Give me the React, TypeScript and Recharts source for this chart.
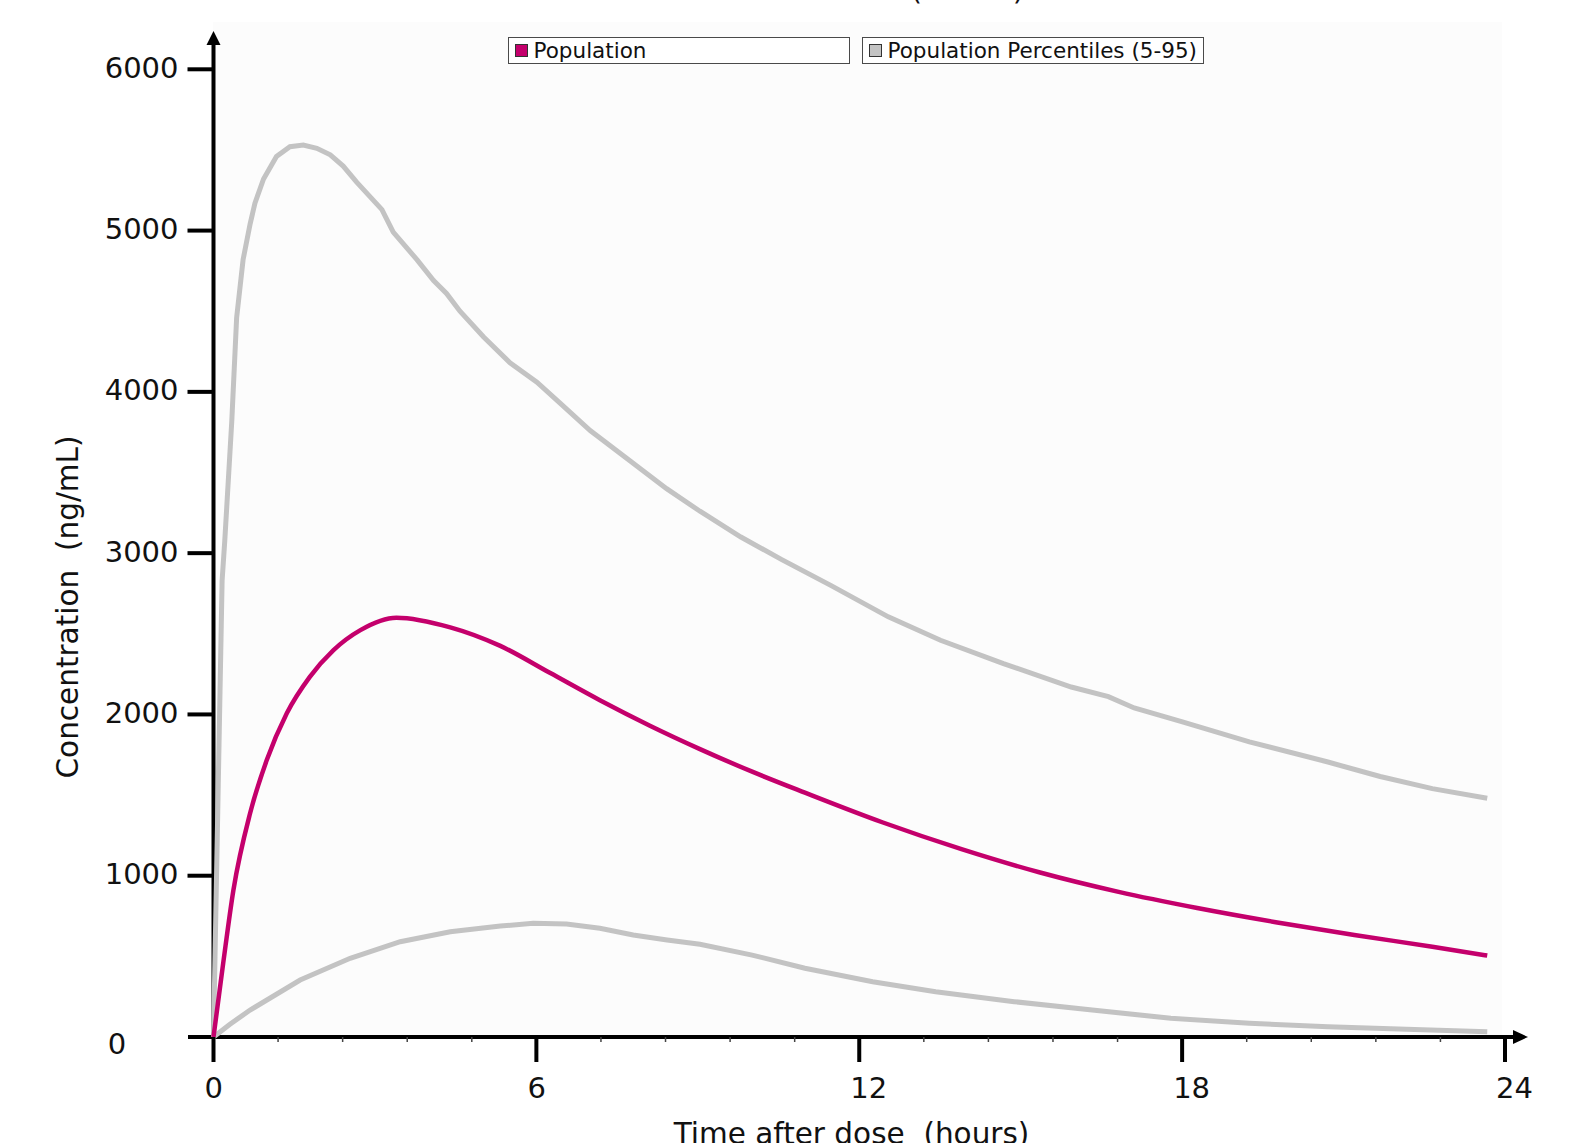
import React from 'react';
import { LineChart, Line, XAxis, YAxis, Legend } from 'recharts';

// population (typical) profile
const popTimes = [0, 0.18, 0.37, 0.68, 0.99, 1.36, 1.79, 2.23, 2.73, 3.4, 4.4, 5.33, 6.25, 7.18, 8.11, 9.04, 10.01, 10.99, 12.44, 13.9, 15.36, 16.82, 18.28, 19.74, 21.2, 22.65, 23.67];
const popValues = [0, 457, 911, 1387, 1717, 2006, 2233, 2399, 2523, 2600, 2540, 2425, 2258, 2088, 1930, 1785, 1645, 1515, 1330, 1165, 1020, 900, 800, 712, 632, 560, 505];

// 95th percentile
const upperTimes = [0, 0.16, 0.21, 0.34, 0.43, 0.55, 0.68, 0.77, 0.93, 1.17, 1.42, 1.67, 1.92, 2.17, 2.41, 2.66, 3.13, 3.34, 3.78, 4.09, 4.33, 4.58, 5.02, 5.51, 6.01, 6.44, 7.0, 7.75, 8.42, 9.04, 9.8, 10.56, 11.47, 12.54, 13.51, 14.68, 15.94, 16.63, 17.11, 17.99, 19.25, 20.71, 21.68, 22.65, 23.67];
const upperValues = [0, 2830, 3080, 3820, 4460, 4820, 5040, 5170, 5320, 5460, 5520, 5530, 5510, 5470, 5400, 5300, 5130, 4990, 4820, 4690, 4610, 4500, 4340, 4180, 4060, 3930, 3760, 3570, 3400, 3260, 3100, 2960, 2800, 2605, 2460, 2315, 2170, 2110, 2040, 1955, 1830, 1705, 1615, 1540, 1480];

// 5th percentile
const lowerTimes = [0, 0.3, 0.68, 1.61, 2.54, 3.47, 4.4, 5.33, 5.94, 6.56, 7.18, 7.8, 8.43, 9.04, 10.01, 10.99, 12.25, 13.42, 14.88, 16.33, 17.79, 19.25, 20.71, 22.17, 23.67];
const lowerValues = [0, 78, 167, 353, 488, 591, 653, 688, 705, 700, 674, 632, 601, 575, 508, 426, 343, 281, 219, 167, 116, 85, 64, 48, 33];

const xTicks = [0, 1.2, 2.4, 3.6, 4.8, 6, 7.2, 8.4, 9.6, 10.8, 12, 13.2, 14.4, 15.6, 16.8, 18, 19.2, 20.4, 21.6, 22.8, 24];
const xMajorTicks = [0, 6, 12, 18, 24];
const yTicks = [0, 1000, 2000, 3000, 4000, 5000, 6000];

const legendNames = ['Population', 'Population Percentiles (5-95)'];
const legendColors = ['#c4006c', '#c3c3c3'];

const W = 1591;
const H = 1143;
const LEFT = 213.5;
const TOP = 69.3;
const RIGHT = 1505;
const BOTTOM = 1037;
const FONT = 'DejaVu Sans';

const zip = (t: number[], v: number[]) => t.map((time, i) => ({ time, value: v[i] }));
const popData = zip(popTimes, popValues);
const upperData = zip(upperTimes, upperValues);
const lowerData = zip(lowerTimes, lowerValues);

const XTick = ({ x, y, payload }: any) => {
  if (!xMajorTicks.includes(payload.value)) {
    return <line x1={x} x2={x} y1={y} y2={y + 5} stroke="#444" strokeWidth={1.5} />;
  }
  return (
    <g>
      <line x1={x} x2={x} y1={y} y2={y + 25} stroke="#000" strokeWidth={4} />
      <text x={x - 9} y={y + 60.5} textAnchor="start" fontSize={29} fontFamily={FONT} fill="#111">
        {payload.value}
      </text>
    </g>
  );
};

const YTick = ({ x, y, payload }: any) => {
  if (payload.value === 0) {
    return (
      <text x={x - 96.5} y={y + 16.5} textAnchor="middle" fontSize={29} fontFamily={FONT} fill="#111">
        0
      </text>
    );
  }
  return (
    <g>
      <line x1={x - 26} x2={x} y1={y} y2={y} stroke="#000" strokeWidth={4} />
      <text x={x - 35} y={y + 8.5} textAnchor="end" fontSize={29} fontFamily={FONT} fill="#111">
        {payload.value}
      </text>
    </g>
  );
};

const LegendBoxes = () => (
  <div style={{ display: 'flex', gap: 12 }}>
    {legendNames.map((name, i) => (
      <div
        key={name}
        style={{
          width: 342,
          height: 27,
          boxSizing: 'border-box',
          border: '1.5px solid #4a4a4a',
          background: '#fff',
          display: 'flex',
          alignItems: 'center',
          paddingLeft: 5.5,
        }}
      >
        <span
          style={{
            display: 'inline-block',
            width: 13,
            height: 13,
            boxSizing: 'border-box',
            background: legendColors[i],
            border: '1px solid #333',
            marginRight: 6,
          }}
        />
        <span style={{ fontSize: 21.5, fontFamily: FONT, color: '#111', lineHeight: '24px' }}>{name}</span>
      </div>
    ))}
  </div>
);

export default function App() {
  return (
    <div style={{ position: 'absolute', left: 0, top: 0, width: W, height: H, background: '#fff', overflow: 'hidden' }}>
      {/* faint plot background */}
      <div style={{ position: 'absolute', left: 213, top: 22, width: 1289, height: BOTTOM - 22, background: '#fcfcfc' }} />

      {/* axes with arrowheads, axis titles and the clipped chart title */}
      <svg width={W} height={H} style={{ position: 'absolute', left: 0, top: 0 }}>
        <text x={1024} y={-0.5} textAnchor="end" fontSize={29} fontFamily={FONT} fill="#111">
          Concentration (Adults)
        </text>
        <line x1={188} x2={1515} y1={BOTTOM} y2={BOTTOM} stroke="#000" strokeWidth={4} />
        <polygon points={`1528,${BOTTOM} 1513,${BOTTOM - 7} 1513,${BOTTOM + 7}`} fill="#000" />
        <line x1={LEFT} x2={LEFT} y1={BOTTOM} y2={43} stroke="#000" strokeWidth={4} />
        <polygon points={`${LEFT},31 ${LEFT - 7},45 ${LEFT + 7},45`} fill="#000" />
        <text
          x={77.5}
          y={607}
          transform="rotate(-90 77.5 607)"
          textAnchor="middle"
          fontSize={29.5}
          fontFamily={FONT}
          fill="#111"
          style={{ whiteSpace: 'pre' }}
        >
          {'Concentration  (ng/mL)'}
        </text>
        <text
          x={851.5}
          y={1144}
          textAnchor="middle"
          fontSize={29.5}
          fontFamily={FONT}
          fill="#111"
          style={{ whiteSpace: 'pre' }}
        >
          {'Time after dose  (hours)'}
        </text>
      </svg>

      <div style={{ position: 'absolute', left: 0, top: 0 }}>
        <LineChart width={W} height={H} margin={{ top: TOP, right: W - RIGHT, left: 0, bottom: 0 }}>
          <XAxis
            dataKey="time"
            type="number"
            domain={[0, 24]}
            ticks={xTicks}
            interval={0}
            height={H - BOTTOM}
            axisLine={false}
            tickLine={false}
            tickSize={0}
            tickMargin={0}
            tick={<XTick />}
          />
          <YAxis
            type="number"
            domain={[0, 6000]}
            ticks={yTicks}
            interval={0}
            width={LEFT}
            axisLine={false}
            tickLine={false}
            tickSize={0}
            tickMargin={0}
            tick={<YTick />}
          />
          <Legend
            layout="vertical"
            verticalAlign="middle"
            align="center"
            content={<LegendBoxes />}
            wrapperStyle={{ top: 37, left: 508, width: 'auto', height: 'auto' }}
          />
          <Line
            data={lowerData}
            dataKey="value"
            name="Population 5th percentile"
            type="linear"
            stroke="#c3c3c3"
            strokeWidth={5}
            dot={false}
            legendType="none"
            isAnimationActive={false}
          />
          <Line
            data={upperData}
            dataKey="value"
            name="Population Percentiles (5-95)"
            type="linear"
            stroke="#c3c3c3"
            strokeWidth={5}
            dot={false}
            isAnimationActive={false}
          />
          <Line
            data={popData}
            dataKey="value"
            name="Population"
            type="monotone"
            stroke="#c4006c"
            strokeWidth={4.5}
            dot={false}
            isAnimationActive={false}
          />
        </LineChart>
      </div>
    </div>
  );
}
